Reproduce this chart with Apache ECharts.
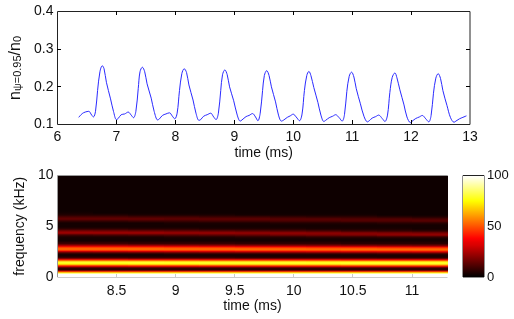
<!DOCTYPE html>
<html><head><meta charset="utf-8">
<style>html,body{margin:0;padding:0;background:#fff}#c{width:514px;height:319px}</style>
<script src="https://cdn.jsdelivr.net/npm/echarts@6/dist/echarts.min.js"></script>
</head><body><div id="c"></div>
<script>
const lineTimes = [6.36,6.42,6.47,6.53,6.58,6.61,6.645,6.68,6.72,6.76,6.79,6.83,6.90,6.95,7.00,
 7.03,7.08,7.14,7.20,7.25,7.29,7.33,7.37,7.40,7.44,7.48,7.52,7.59,7.64,7.70,
 7.73,7.78,7.84,7.90,7.95,7.99,8.03,8.07,8.11,8.15,8.19,8.23,8.30,8.35,8.40,
 8.43,8.48,8.54,8.60,8.65,8.69,8.73,8.77,8.80,8.84,8.88,8.92,8.99,9.05,9.10,
 9.13,9.20,9.25,9.31,9.36,9.40,9.44,9.48,9.51,9.55,9.59,9.63,9.70,9.75,9.80,
 9.84,9.90,9.95,10.0,10.05,10.107,10.15,10.19,10.23,10.266,10.30,10.35,10.42,10.47,10.52,
 10.55,10.61,10.67,10.72,10.78,10.83,10.87,10.91,10.95,10.99,11.03,11.07,11.14,11.20,11.26,
 11.29,11.34,11.40,11.45,11.51,11.556,11.60,11.64,11.68,11.726,11.76,11.81,11.88,11.93,11.99,
 12.02,12.08,12.14,12.19,12.25,12.30,12.34,12.38,12.42,12.46,12.50,12.54,12.61,12.67,12.73,
 12.76,12.82,12.88,12.94];
const lineValues = [.119,.129,.133,.135,.125,.120,.135,.19,.24,.256,.248,.212,.168,.135,.113,
 .116,.126,.128,.133,.125,.118,.135,.195,.24,.252,.240,.208,.17,.135,.112,
 .115,.124,.128,.131,.122,.115,.13,.19,.235,.248,.238,.205,.165,.13,.111,
 .113,.122,.126,.130,.120,.113,.13,.19,.232,.245,.232,.2,.163,.125,.109,
 .112,.121,.124,.129,.12,.11,.13,.19,.23,.243,.23,.2,.16,.125,.109,
 .112,.119,.123,.1275,.12,.11,.128,.19,.23,.241,.23,.198,.158,.125,.108,
 .111,.118,.122,.126,.118,.109,.126,.188,.228,.239,.226,.195,.155,.122,.107,
 .110,.117,.121,.125,.116,.108,.125,.185,.225,.237,.224,.192,.152,.12,.105,
 .109,.116,.120,.124,.115,.107,.124,.183,.223,.235,.222,.19,.15,.118,.106,
 .109,.115,.119,.123];
const topXTicks = [7,8,9,10,11,12];
const topYTicks = [0.2,0.3];
const heatXTicks = [8.5,9,9.5,10,10.5,11];
const heatTimes = [8.15,8.45,8.75,9.05,9.35,9.65,9.95,10.25,10.55,10.85,11.15];
const heatFreqs = [0.1,0.3,0.5,0.7,0.9,1.1,1.3,1.5,1.7,1.9,2.1,2.3,2.5,2.7,2.9,3.1,3.3,3.5,3.7,3.9,4.1,4.3,4.5,4.7,4.9,5.1,5.3,5.5,5.7,5.9,6.1,6.3,6.5,6.7,6.9,7.1,7.3,7.5,7.7,7.9,8.1,8.3,8.5,8.7,8.9,9.1,9.3,9.5,9.7,9.9];
const heatRows = [
[100,100,100,100,100,100,100,100,100,100,100],
[100,100,100,100,100,100,100,100,100,100,100],
[55,55,55,55,55,55,55,55,55,55,55],
[6,6,6,6,6,6,6,6,6,6,6],
[8,8,8,8,8,8,8,8,8,8,8],
[40,40,41,41,42,42,43,43,44,44,44],
[76,76,77,77,78,78,78,78,79,79,79],
[80,80,80,79,79,79,79,78,78,78,78],
[44,44,43,43,42,42,41,41,40,40,40],
[10,10,9,9,9,8,8,8,8,7,7],
[3,3,3,3,3,3,3,3,3,3,3],
[4,4,4,5,5,5,6,6,6,7,7],
[20,21,22,23,24,25,26,27,28,29,30],
[52,52,53,53,53,54,54,54,55,55,55],
[52,52,52,51,51,50,50,49,49,48,48],
[30,30,29,28,27,26,25,24,23,22,21],
[9,9,8,8,8,7,7,7,6,6,6],
[3,3,3,3,3,3,3,3,3,3,3],
[3,3,3,3,3,3,3,3,3,3,3],
[4,4,4,5,5,6,6,7,7,8,8],
[10,11,12,13,14,15,17,18,19,21,22],
[24,24,24,23,23,22,22,21,20,19,18],
[18,17,16,15,14,13,12,11,9,8,7],
[7,7,6,6,5,5,5,4,4,4,3],
[3,3,3,3,3,3,3,3,3,3,3],
[3,3,3,3,3,3,3,3,3,3,3],
[3,3,3,4,4,4,5,5,5,6,6],
[8,8,9,9,10,10,11,11,12,12,13],
[15,15,15,14,14,14,13,13,12,12,11],
[11,11,10,10,9,9,8,7,7,6,5],
[5,5,4,4,4,3,3,3,3,2,2],
[3,2,2,2,2,2,2,2,2,2,2],
[2,2,2,2,2,2,2,2,2,2,2],
[2,2,2,2,2,2,2,2,2,2,2],
[2,2,2,2,2,2,2,2,2,2,2],
[2,2,2,2,2,2,2,2,2,2,2],
[2,2,2,2,2,2,2,2,2,2,2],
[2,2,2,2,2,2,2,2,2,2,2],
[2,2,2,2,2,2,2,2,2,2,2],
[2,2,2,2,2,2,2,2,2,2,2],
[2,2,2,2,2,2,2,2,2,2,2],
[2,2,2,2,2,2,2,2,2,2,2],
[2,2,2,2,2,2,2,2,2,2,2],
[2,2,2,2,2,2,2,2,2,2,2],
[2,2,2,2,2,2,2,2,2,2,2],
[2,2,2,2,2,2,2,2,2,2,2],
[2,2,2,2,2,2,2,2,2,2,2],
[2,2,2,2,2,2,2,2,2,2,2],
[2,2,2,2,2,2,2,2,2,2,2],
[2,2,2,2,2,2,2,2,2,2,2]];
const colorbarLevels = [1,3,5,7,9,11,13,15,17,19,21,23,25,27,29,31,33,35,37,39,41,43,45,47,49,51,53,55,57,59,61,63,65,67,69,71,73,75,77,79,81,83,85,87,89,91,93,95,97,99];

const font = 'Liberation Sans';
const ink = '#222222';
function hot(v){
  const s=[[0,0,0,0],[37.5,255,0,0],[75,255,255,0],[100,255,255,255]];
  for(let i=1;i<s.length;i++){ if(v<=s[i][0]){
    const k=(v-s[i-1][0])/(s[i][0]-s[i-1][0]);
    const c=[1,2,3].map(n=>Math.round(s[i-1][n]+(s[i][n]-s[i-1][n])*k));
    return 'rgb('+c.join(',')+')';
  }}
  return '#fff';
}
const heatData = [];
heatRows.forEach((row,i)=>row.forEach((v,j)=>{
  const below=(heatRows[i-1]||row)[j], above=(heatRows[i+1]||row)[j];
  heatData.push([heatTimes[j],heatFreqs[i],v,below,above]);
}));
const barData = colorbarLevels.map((v,i)=>[0.5,v,v,colorbarLevels[i-1]||0,colorbarLevels[i+1]||100]);

function cell(dx,dy){
  return function(params,api){
    const x=api.value(0),y=api.value(1),v=api.value(2);
    const a=api.coord([x-dx/2,y+dy/2]),b=api.coord([x+dx/2,y-dy/2]);
    const x0=Math.round(a[0]),x1=Math.round(b[0]),y0=Math.round(a[1]),y1=Math.round(b[1]);
    const fill=new echarts.graphic.LinearGradient(0,0,0,1,[
      {offset:0,color:hot((v+api.value(4))/2)},
      {offset:0.5,color:hot(v)},
      {offset:1,color:hot((v+api.value(3))/2)}]);
    return {type:'rect',shape:{x:x0,y:y0,width:x1-x0,height:y1-y0},style:{fill:fill,stroke:null}};
  };
}
function tickSeries(xi,yi,data,dx,dy,color){
  return {type:'custom',xAxisIndex:xi,yAxisIndex:yi,data:data,clip:false,silent:true,z:5,encode:{x:0,y:1},
    renderItem:function(params,api){
      const p=api.coord([api.value(0),api.value(1)]);
      const x=Math.floor(p[0]),y=Math.floor(p[1]);
      return {type:'rect',shape:{x:dx<0?x+dx:x,y:dy<0?y+dy:y,width:dx?Math.abs(dx):1,height:dy?Math.abs(dy):1},style:{fill:color,stroke:null}};
    }};
}
const axisBase=(gi,pos,o)=>Object.assign({type:'value',gridIndex:gi,position:pos,
  axisLine:{show:false},axisTick:{show:false},splitLine:{show:false},axisLabel:{show:false}},o);
const label=(o)=>Object.assign({show:true,color:'#111',fontFamily:font,fontSize:14},o);
const nameStyle={color:'#111',fontFamily:font,fontSize:14};

const chart=echarts.init(document.getElementById('c'),null,{renderer:'canvas'});
chart.setOption({
  animation:false,backgroundColor:'#fff',
  grid:[
    {left:57.5,top:11.5,width:412.5,height:113,outerBoundsMode:'none',show:true,borderColor:ink,borderWidth:1,backgroundColor:'transparent'},
    {left:57.5,top:175.5,width:390,height:101.5,outerBoundsMode:'none',show:true,borderColor:'#999',borderWidth:1,backgroundColor:'transparent',z:1},
    {left:463,top:175.5,width:21,height:101.5,outerBoundsMode:'none',show:true,borderColor:ink,borderWidth:1,backgroundColor:'transparent'}
  ],
  xAxis:[
    axisBase(0,'bottom',{min:6,max:13,interval:1,name:'time (ms)',nameLocation:'middle',nameGap:22,nameTextStyle:nameStyle,
      axisLabel:label({margin:6,formatter:v=>String(v)})}),
    axisBase(1,'bottom',{min:8,max:11.3,interval:0.5,name:'time (ms)',nameLocation:'middle',nameGap:22,nameTextStyle:nameStyle,
      axisLabel:label({margin:7,showMinLabel:false,showMaxLabel:false,formatter:v=>(v>8&&Math.abs(v*2-Math.round(v*2))<1e-6)?String(v):''})}),
    axisBase(2,'bottom',{min:0,max:1})
  ],
  yAxis:[
    axisBase(0,'left',{min:0.1,max:0.4,interval:0.1,name:'{n|n}{s|ψ=0.95}{n|/n}{s|0}',nameLocation:'middle',nameGap:22,nameRotate:90,
      nameTextStyle:{color:'#111',fontFamily:font,padding:[0,0,3,0],rich:{n:{fontSize:16,fontFamily:font,color:'#111',lineHeight:16,verticalAlign:'top'},s:{fontSize:11,fontFamily:font,color:'#111',lineHeight:16,verticalAlign:'bottom',padding:[7,0,0,0]}}},
      axisLabel:label({margin:4,formatter:v=>v.toFixed(1)})}),
    axisBase(1,'left',{min:0,max:10,interval:5,name:'frequency (kHz)',nameLocation:'middle',nameGap:25,nameRotate:90,nameTextStyle:nameStyle,
      axisLabel:label({margin:4})}),
    axisBase(2,'right',{min:0,max:100,interval:50,axisLabel:label({margin:3,fontSize:13})})
  ],
  series:[
    {type:'line',xAxisIndex:0,yAxisIndex:0,data:lineTimes.map((t,i)=>[t,lineValues[i]]),smooth:0.35,showSymbol:false,lineStyle:{color:'#2a2aff',width:1}},
    {type:'custom',xAxisIndex:1,yAxisIndex:1,data:heatData,clip:true,renderItem:cell(0.3,0.2),encode:{x:0,y:1}},
    {type:'custom',xAxisIndex:2,yAxisIndex:2,data:barData,clip:true,renderItem:cell(1,2),encode:{x:0,y:1}},
    tickSeries(0,0,topXTicks.map(t=>[t,0.1]),0,-4,'#000000'),
    tickSeries(0,0,topXTicks.map(t=>[t,0.4]),0,4,'#000000'),
    tickSeries(0,0,topYTicks.map(v=>[6,v]),4,0,'#000000'),
    tickSeries(0,0,topYTicks.map(v=>[13,v]),-4,0,'#000000'),
    tickSeries(1,1,heatXTicks.map(t=>[t,0]),0,-3,'#cccccc')
  ]
});
</script></body></html>
